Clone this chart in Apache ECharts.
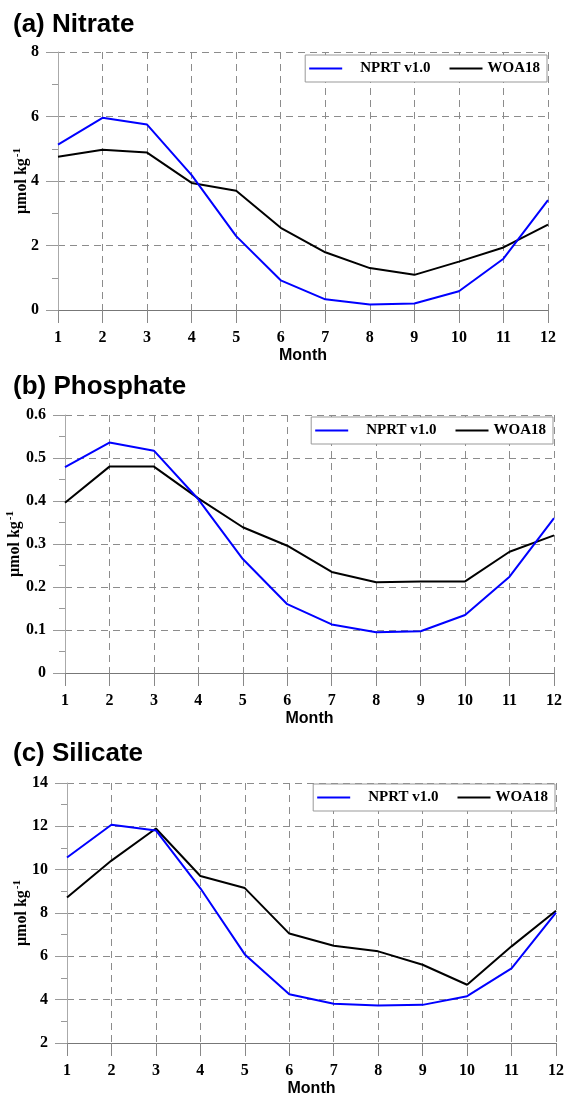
<!DOCTYPE html>
<html><head><meta charset="utf-8">
<script src="https://cdn.jsdelivr.net/npm/echarts@6/dist/echarts.min.js"></script>
<style>html,body{margin:0;padding:0;background:#fff}#c{width:564px;height:1096px}</style>
</head><body><div id="c"></div>
<script>
const months = [1,2,3,4,5,6,7,8,9,10,11,12];
const seriesNames = ['NPRT v1.0', 'WOA18'];
const panelTitles = ['(a) Nitrate', '(b) Phosphate', '(c) Silicate'];
const nitrateNPRT  = [5.13, 5.96, 5.75, 4.18, 2.29, 0.92, 0.33, 0.17, 0.20, 0.58, 1.59, 3.41];
const nitrateWOA   = [4.75, 4.97, 4.88, 3.94, 3.70, 2.55, 1.79, 1.30, 1.09, 1.50, 1.94, 2.65];
const phosphateNPRT = [0.479, 0.536, 0.517, 0.404, 0.265, 0.160, 0.113, 0.095, 0.097, 0.135, 0.224, 0.360];
const phosphateWOA  = [0.396, 0.480, 0.480, 0.406, 0.339, 0.296, 0.235, 0.211, 0.213, 0.213, 0.282, 0.320];
const silicateNPRT = [10.56, 12.07, 11.81, 9.14, 6.09, 4.25, 3.81, 3.73, 3.76, 4.16, 5.44, 8.02];
const silicateWOA  = [8.72, 10.42, 11.90, 9.71, 9.15, 7.05, 6.49, 6.23, 5.61, 4.69, 6.46, 8.10];
const yRanges = [[0, 8, 2], [0, 0.6, 0.1], [2, 14, 2]];

const panels = [
  {title: panelTitles[0], nprt: nitrateNPRT, woa: nitrateWOA, range: yRanges[0], nameGap: 26,
   grid: {left: 58, right: 16, top: 52, height: 258}, titleTop: 7, legend: {right: 17, top: 55}},
  {title: panelTitles[1], nprt: phosphateNPRT, woa: phosphateWOA, range: yRanges[1], nameGap: 40,
   grid: {left: 65, right: 10, top: 415, height: 258}, titleTop: 369, legend: {right: 11, top: 417}},
  {title: panelTitles[2], nprt: silicateNPRT, woa: silicateWOA, range: yRanges[2], nameGap: 35,
   grid: {left: 67, right: 8, top: 783, height: 260}, titleTop: 736, legend: {right: 9, top: 784}}
];

const pair = arr => months.map((m, i) => [m, arr[i]]);
const serif = 'Liberation Serif';
const sans = 'Liberation Sans';
const gridColor = '#8c8c8c';

const option = {
  backgroundColor: '#fff',
  animation: false,
  title: [], grid: [], xAxis: [], yAxis: [], legend: [], series: []
};

panels.forEach((p, k) => {
  option.title.push({text: p.title, left: 8, top: p.titleTop,
    textStyle: {fontFamily: sans, fontWeight: 'bold', fontSize: 26, color: '#000'}});
  option.grid.push(Object.assign({containLabel: false, outerBoundsMode: 'none'}, p.grid));
  option.xAxis.push({
    type: 'value', gridIndex: k, min: 1, max: 12, interval: 1,
    name: 'Month', nameLocation: 'middle', nameGap: 38, nameMoveOverlap: false,
    nameTextStyle: {fontFamily: sans, fontWeight: 'bold', fontSize: 16, color: '#000'},
    axisLine: {show: true, lineStyle: {color: '#777', width: 1}},
    axisTick: {show: true, length: 13, lineStyle: {color: '#888', width: 1}},
    axisLabel: {margin: 20, fontFamily: serif, fontWeight: 'bold', fontSize: 16, color: '#000'},
    splitLine: {show: true, lineStyle: {color: gridColor, type: [7, 5], width: 1}}
  });
  const dec = p.range[2] < 1 ? 1 : 0;
  option.yAxis.push({
    type: 'value', gridIndex: k, min: p.range[0], max: p.range[1], interval: p.range[2],
    name: '{a|μmol kg}{b|-1}', nameLocation: 'middle', nameGap: p.nameGap, nameRotate: 90,
    nameMoveOverlap: false,
    nameTextStyle: {rich: {
      a: {fontFamily: serif, fontWeight: 'bold', fontSize: 16, color: '#000', lineHeight: 20},
      b: {fontFamily: serif, fontWeight: 'bold', fontSize: 11, color: '#000', verticalAlign: 'top', lineHeight: 20, padding: [0, 0, 8, 1]}
    }},
    axisLine: {show: true, lineStyle: {color: '#aaa', width: 1}},
    axisTick: {show: true, length: 12, lineStyle: {color: '#999'}},
    minorTick: {show: true, splitNumber: 2, length: 6, lineStyle: {color: '#999'}},
    axisLabel: {margin: 19, fontFamily: serif, fontWeight: 'bold', fontSize: 16, color: '#000',
      formatter: v => dec ? (v === 0 ? '0' : v.toFixed(1)) : String(v)},
    splitLine: {show: true, lineStyle: {color: gridColor, type: [7, 5], width: 1}}
  });
  option.legend.push({
    right: p.legend.right, top: p.legend.top,
    data: [{name: seriesNames[0], textStyle: {padding: [0, 0, 0, 13]}}, {name: seriesNames[1]}],
    icon: 'rect', itemWidth: 33, itemHeight: 2, itemGap: 19,
    padding: [6, 7, 6, 4],
    backgroundColor: '#fff', borderColor: '#999', borderWidth: 1,
    textStyle: {fontFamily: serif, fontWeight: 'bold', fontSize: 15, color: '#000'}
  });
  option.series.push({
    name: seriesNames[0], type: 'line', xAxisIndex: k, yAxisIndex: k, data: pair(p.nprt),
    symbol: 'none', lineStyle: {color: '#0000ff', width: 2}, itemStyle: {color: '#0000ff'}, z: 3
  });
  option.series.push({
    name: seriesNames[1], type: 'line', xAxisIndex: k, yAxisIndex: k, data: pair(p.woa),
    symbol: 'none', lineStyle: {color: '#000', width: 2}, itemStyle: {color: '#000'}, z: 2
  });
});

const chart = echarts.init(document.getElementById('c'), null, {renderer: 'canvas'});
chart.setOption(option);
</script></body></html>
